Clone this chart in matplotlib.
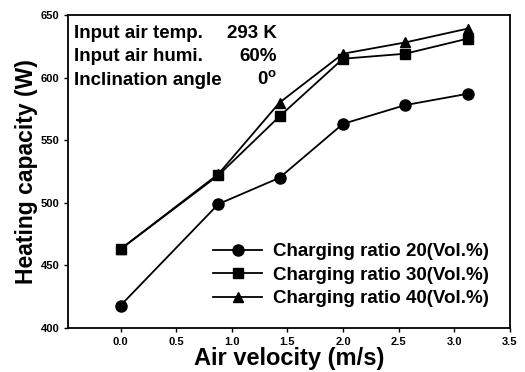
import matplotlib
matplotlib.use("Agg")
from matplotlib import pyplot as plt

plt.rcParams["font.family"] = ["Liberation Sans", "DejaVu Sans"]

air_velocity = [0.0, 0.88, 1.43, 2.0, 2.56, 3.12]
ratio_20 = [418, 499, 520, 563, 578, 587]
ratio_30 = [463, 522, 569, 615, 619, 631]
ratio_40 = [463, 523, 580, 619, 628, 639]
labels = ["Charging ratio 20(Vol.%)", "Charging ratio 30(Vol.%)", "Charging ratio 40(Vol.%)"]

fig = plt.figure(figsize=(5.25, 3.72), dpi=100)
ax = fig.add_axes([0.13, 0.118, 0.841, 0.842])

ax.plot(air_velocity, ratio_20, "k-o", lw=1.3, ms=8, label=labels[0])
ax.plot(air_velocity, ratio_30, "k-s", lw=1.3, ms=7, label=labels[1])
ax.plot(air_velocity, ratio_40, "k-^", lw=1.3, ms=7.5, label=labels[2])

ax.set_xlim(-0.47, 3.5)
ax.set_ylim(400, 650)
ax.set_xticks([0.0, 0.5, 1.0, 1.5, 2.0, 2.5, 3.0, 3.5])
ax.set_yticks([400, 450, 500, 550, 600, 650])
ax.tick_params(labelsize=8, length=3, width=1)
for t in ax.get_xticklabels() + ax.get_yticklabels():
    t.set_fontweight("bold")
for s in ax.spines.values():
    s.set_linewidth(1.3)

ax.set_xlabel("Air velocity (m/s)", fontsize=17, fontweight="bold", labelpad=0)
ax.set_ylabel("Heating capacity (W)", fontsize=16.5, fontweight="bold", labelpad=2)

info = [("Input air temp.", "293 K", 0.942),
        ("Input air humi.", "60%", 0.866),
        ("Inclination angle", "0$^\\mathregular{o}$", 0.792)]
for name, value, yy in info:
    ax.text(0.012, yy, name, transform=ax.transAxes, fontsize=13.5, fontweight="bold", va="center")
    ax.text(0.473, yy, value, transform=ax.transAxes, fontsize=13.5, fontweight="bold", va="center", ha="right")

ax.legend(loc="lower right", frameon=False, prop={"size": 13.5, "weight": "bold"},
          handlelength=2.6, handletextpad=0.6, borderaxespad=0.7, labelspacing=0.35)

fig.savefig("out.png", dpi=100)
